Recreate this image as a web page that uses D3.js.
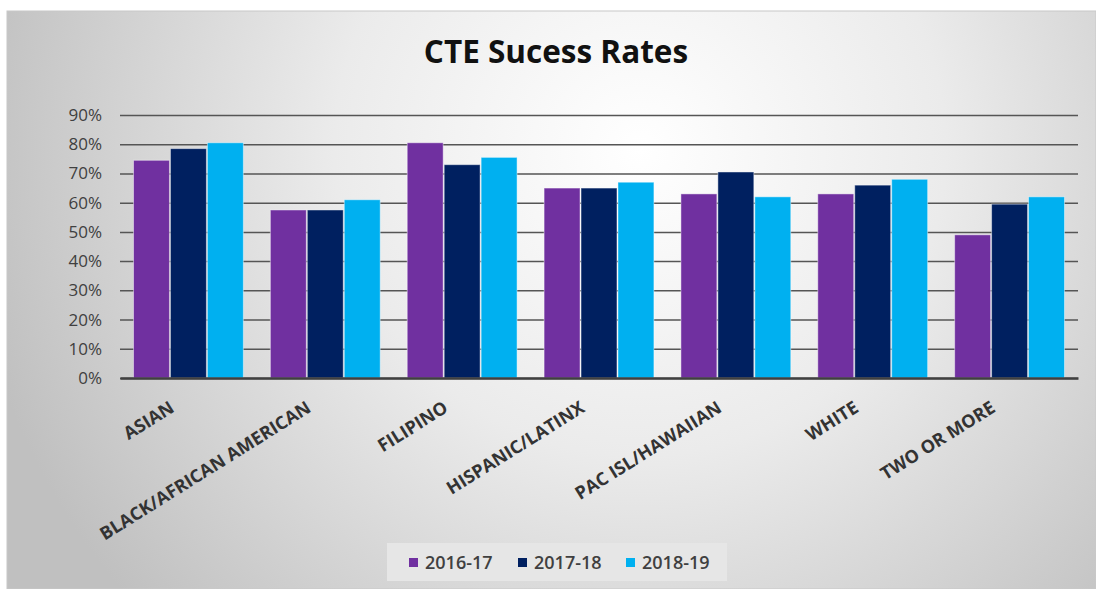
<!DOCTYPE html>
<html><head><meta charset="utf-8">
<script src="https://cdn.jsdelivr.net/npm/d3@7"></script>
<style>html,body{margin:0;padding:0;background:#fff;}svg{display:block;}</style>
</head><body>
<script>
const categories = ["ASIAN","BLACK/AFRICAN AMERICAN","FILIPINO","HISPANIC/LATINX","PAC ISL/HAWAIIAN","WHITE","TWO OR MORE"];
const seriesNames = ["2016-17","2017-18","2018-19"];
const values2016 = [0.745, 0.575, 0.805, 0.65, 0.63, 0.63, 0.49];
const values2017 = [0.785, 0.575, 0.73, 0.65, 0.705, 0.66, 0.595];
const values2018 = [0.805, 0.61, 0.755, 0.67, 0.62, 0.68, 0.62];
const yTicks = [0,0.1,0.2,0.3,0.4,0.5,0.6,0.7,0.8,0.9];
const colors = ["#7030A0","#002060","#00B0F0"];
const title = "CTE Sucess Rates";

const W = 1096, H = 589;
const svg = d3.select("body").append("svg").attr("width", W).attr("height", H);
const defs = svg.append("defs");
const grad = defs.append("radialGradient").attr("id","bg").attr("gradientUnits","userSpaceOnUse")
  .attr("cx",640).attr("cy",150).attr("r",680).attr("fx",640).attr("fy",150);
grad.append("stop").attr("offset","0%").attr("stop-color","#ffffff");
grad.append("stop").attr("offset","45%").attr("stop-color","#ebebeb");
grad.append("stop").attr("offset","100%").attr("stop-color","#c0c0c0");

svg.append("rect").attr("x",7).attr("y",11).attr("width",W-7).attr("height",H-11)
  .attr("fill","url(#bg)").attr("stroke","#c8c8c8").attr("stroke-width",1);

svg.append("text").attr("x",556).attr("y",63).attr("text-anchor","middle")
  .attr("font-family","Open Sans").attr("font-weight","bold").attr("font-size",31.5)
  .attr("fill","#111").text(title);

const plot = {l:120, r:1078, t:115, b:378};
const x0 = d3.scaleBand().domain(categories).range([plot.l, plot.r]).paddingInner(0.19).paddingOuter(0.095);
const x1 = d3.scaleBand().domain(seriesNames).range([0, x0.bandwidth()]).padding(0);
const y = d3.scaleLinear().domain([0,0.9]).range([plot.b, plot.t]);

const yAxis = d3.axisLeft(y).tickValues(yTicks).tickFormat(d3.format(".0%")).tickSize(-(plot.r-plot.l)).tickPadding(18);
const gy = svg.append("g").attr("transform",`translate(${plot.l},0)`).call(yAxis);
gy.select(".domain").remove();
gy.selectAll(".tick line").attr("stroke","#555").attr("stroke-width",1.5);
gy.selectAll(".tick text").attr("font-family","Open Sans").attr("font-size",17).attr("fill","#404040");

const allSeries = [values2016, values2017, values2018];
const g = svg.append("g");
categories.forEach((c, i) => {
  const grp = g.append("g").attr("transform",`translate(${x0(c)},0)`);
  seriesNames.forEach((s, j) => {
    const v = allSeries[j][i];
    grp.append("rect").attr("x", x1(s)+0.5).attr("width", x1.bandwidth()-1)
      .attr("y", y(v)).attr("height", y(0)-y(v))
      .attr("fill", colors[j]).attr("stroke","rgba(255,255,255,0.45)").attr("stroke-width",1);
  });
});

const xAxis = d3.axisBottom(x0).tickSize(0).tickPadding(0);
const gx = svg.append("g").attr("transform",`translate(0,${plot.b})`).call(xAxis);
gx.select(".domain").attr("stroke","#404040").attr("stroke-width",2.5);
gx.selectAll(".tick text")
  .attr("font-family","Open Sans").attr("font-weight","bold").attr("font-size",18)
  .attr("fill","#333").attr("text-anchor","end")
  .attr("transform","translate(-13,33) rotate(-32)").attr("dy",0).attr("y",0);

const leg = svg.append("g");
leg.append("rect").attr("x",387).attr("y",543).attr("width",340).attr("height",38).attr("fill","#e6e6e6");
const legX = [409, 518, 626];
seriesNames.forEach((s, j) => {
  leg.append("rect").attr("x",legX[j]).attr("y",558).attr("width",9).attr("height",9).attr("fill",colors[j]);
  leg.append("text").attr("x",legX[j]+16).attr("y",569).attr("font-family","Open Sans").attr("font-weight",600).attr("font-size",18)
    .attr("fill","#404040").text(s);
});
</script>
</body></html>
